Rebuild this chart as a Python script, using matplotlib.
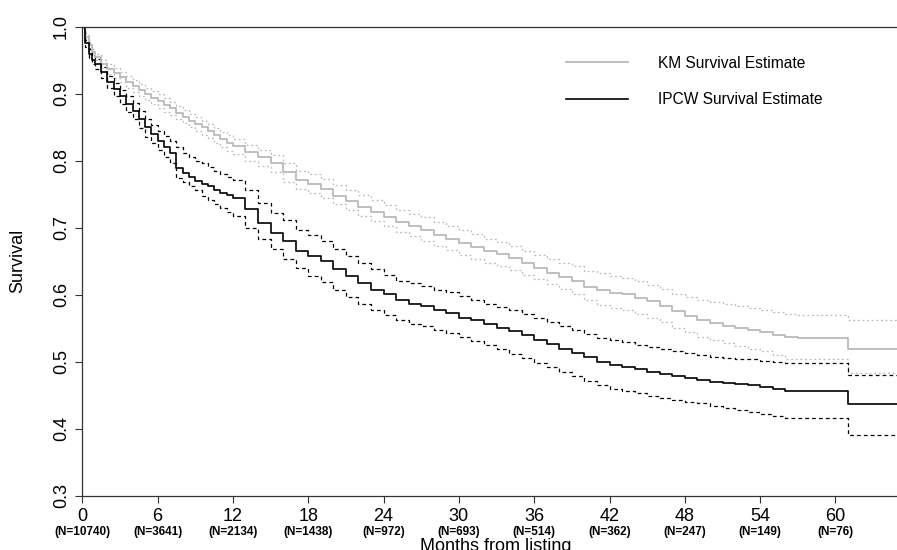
import numpy as np
import matplotlib
matplotlib.use('Agg')
import matplotlib.pyplot as plt
from matplotlib.transforms import blended_transform_factory

plt.rcParams['font.family'] = ['Liberation Sans', 'DejaVu Sans']

# months from listing (step times)
months = [0, 0.25, 0.5, 0.75, 1, 1.5, 2, 2.5, 3, 3.5, 4, 4.5, 5, 5.5, 6, 6.5, 7, 7.5,
          8, 8.5, 9, 9.5, 10, 10.5, 11, 11.5, 12,
          13, 14, 15, 16, 17, 18, 19, 20, 21, 22, 23, 24,
          25, 26, 27, 28, 29, 30, 31, 32, 33, 34, 35, 36, 37, 38, 39, 40,
          41, 42, 43, 44, 45, 46, 47, 48, 49, 50, 51, 52, 53, 54, 55, 56,
          57, 58, 59, 60, 61, 65]

km = [1.000, 0.985, 0.972, 0.962, 0.955, 0.945, 0.937, 0.931, 0.925, 0.918, 0.911, 0.905,
      0.900, 0.894, 0.889, 0.883, 0.878, 0.872, 0.866, 0.860, 0.855, 0.850, 0.845, 0.838,
      0.832, 0.827, 0.822,
      0.813, 0.805, 0.796, 0.783, 0.772, 0.766, 0.758, 0.748, 0.740, 0.731, 0.724, 0.716,
      0.708, 0.703, 0.697, 0.690, 0.684, 0.677, 0.672, 0.666, 0.661, 0.655, 0.647, 0.640,
      0.633, 0.626, 0.620, 0.612, 0.607, 0.603, 0.601, 0.596, 0.591, 0.584, 0.576, 0.569,
      0.562, 0.558, 0.554, 0.550, 0.547, 0.545, 0.540, 0.537, 0.536, 0.536, 0.536, 0.536,
      0.519, 0.519]
km_upper = [1.000, 0.988, 0.976, 0.966, 0.960, 0.951, 0.944, 0.938, 0.933, 0.926, 0.920, 0.914,
            0.909, 0.904, 0.899, 0.893, 0.888, 0.882, 0.876, 0.870, 0.865, 0.860, 0.855, 0.849,
            0.843, 0.838, 0.833,
            0.824, 0.816, 0.808, 0.796, 0.785, 0.780, 0.773, 0.764, 0.757, 0.749, 0.742, 0.734,
            0.726, 0.721, 0.716, 0.709, 0.703, 0.697, 0.691, 0.684, 0.679, 0.673, 0.666, 0.660,
            0.654, 0.648, 0.643, 0.636, 0.632, 0.628, 0.625, 0.620, 0.615, 0.609, 0.602, 0.597,
            0.592, 0.589, 0.586, 0.583, 0.580, 0.578, 0.574, 0.571, 0.570, 0.570, 0.570, 0.570,
            0.562, 0.562]
km_lower = [1.000, 0.982, 0.968, 0.958, 0.950, 0.939, 0.930, 0.924, 0.917, 0.909, 0.902, 0.896,
            0.891, 0.885, 0.879, 0.873, 0.868, 0.862, 0.856, 0.850, 0.844, 0.839, 0.834, 0.827,
            0.820, 0.815, 0.810,
            0.800, 0.792, 0.783, 0.769, 0.758, 0.752, 0.744, 0.735, 0.727, 0.718, 0.710, 0.702,
            0.694, 0.688, 0.681, 0.673, 0.667, 0.659, 0.654, 0.648, 0.643, 0.637, 0.630, 0.623,
            0.616, 0.609, 0.602, 0.593, 0.585, 0.580, 0.577, 0.572, 0.566, 0.559, 0.551, 0.544,
            0.537, 0.532, 0.528, 0.524, 0.520, 0.517, 0.510, 0.505, 0.504, 0.504, 0.504, 0.504,
            0.483, 0.483]

ipcw = [1.000, 0.975, 0.960, 0.951, 0.945, 0.932, 0.918, 0.907, 0.896, 0.885, 0.875, 0.862,
        0.850, 0.840, 0.830, 0.821, 0.812, 0.789, 0.782, 0.776, 0.770, 0.766, 0.762, 0.757,
        0.752, 0.749, 0.745,
        0.728, 0.707, 0.692, 0.681, 0.666, 0.658, 0.650, 0.638, 0.628, 0.617, 0.608, 0.601,
        0.592, 0.587, 0.583, 0.578, 0.573, 0.566, 0.562, 0.556, 0.551, 0.546, 0.540, 0.533,
        0.527, 0.519, 0.514, 0.507, 0.500, 0.496, 0.492, 0.489, 0.485, 0.482, 0.479, 0.476,
        0.473, 0.470, 0.468, 0.467, 0.465, 0.462, 0.460, 0.457, 0.457, 0.457, 0.457, 0.457,
        0.437, 0.437]
ipcw_upper = [1.000, 0.980, 0.966, 0.958, 0.952, 0.940, 0.927, 0.916, 0.906, 0.896, 0.886, 0.874,
              0.863, 0.854, 0.845, 0.837, 0.829, 0.820, 0.812, 0.806, 0.800, 0.796, 0.791, 0.785,
              0.780, 0.776, 0.772,
              0.757, 0.737, 0.722, 0.711, 0.697, 0.689, 0.680, 0.668, 0.658, 0.648, 0.638, 0.630,
              0.621, 0.617, 0.613, 0.608, 0.604, 0.598, 0.593, 0.587, 0.582, 0.577, 0.572, 0.566,
              0.560, 0.553, 0.548, 0.542, 0.536, 0.532, 0.529, 0.525, 0.522, 0.519, 0.516, 0.513,
              0.510, 0.508, 0.506, 0.505, 0.504, 0.502, 0.500, 0.498, 0.498, 0.498, 0.498, 0.498,
              0.481, 0.481]
ipcw_lower = [1.000, 0.970, 0.953, 0.944, 0.937, 0.923, 0.908, 0.896, 0.884, 0.873, 0.862, 0.849,
              0.836, 0.826, 0.816, 0.806, 0.797, 0.775, 0.768, 0.762, 0.756, 0.748, 0.741, 0.735,
              0.729, 0.723, 0.718,
              0.700, 0.684, 0.668, 0.654, 0.640, 0.628, 0.619, 0.607, 0.597, 0.586, 0.577, 0.570,
              0.562, 0.557, 0.553, 0.548, 0.543, 0.537, 0.531, 0.525, 0.519, 0.512, 0.506, 0.499,
              0.493, 0.485, 0.479, 0.472, 0.465, 0.460, 0.456, 0.453, 0.449, 0.446, 0.443, 0.440,
              0.438, 0.434, 0.431, 0.428, 0.425, 0.423, 0.420, 0.416, 0.416, 0.416, 0.416, 0.416,
              0.391, 0.391]

tick_months = [0, 6, 12, 18, 24, 30, 36, 42, 48, 54, 60]
at_risk = ['(N=10740)', '(N=3641)', '(N=2134)', '(N=1438)', '(N=972)', '(N=693)',
           '(N=514)', '(N=362)', '(N=247)', '(N=149)', '(N=76)']
y_ticks = [0.3, 0.4, 0.5, 0.6, 0.7, 0.8, 0.9, 1.0]

grey = '#bababa'

fig = plt.figure(figsize=(8.97, 5.5), dpi=100)
ax = fig.add_axes([82.3 / 897, 54 / 550, (897 - 82.3) / 897, 469.3 / 550])

ax.plot(months, km_upper, color=grey, lw=0.9, dashes=(1.5, 2.2), drawstyle='steps-post')
ax.plot(months, km_lower, color=grey, lw=0.9, dashes=(1.5, 2.2), drawstyle='steps-post')
ax.plot(months, ipcw_upper, color='black', lw=0.9, dashes=(3, 2.5), drawstyle='steps-post')
ax.plot(months, ipcw_lower, color='black', lw=0.9, dashes=(3, 2.5), drawstyle='steps-post')
ax.plot(months, km, color=grey, lw=1.3, drawstyle='steps-post', label='KM Survival Estimate')
ax.plot(months, ipcw, color='black', lw=1.2, drawstyle='steps-post', label='IPCW Survival Estimate')

ax.set_xlim(0, 64.9)
ax.set_ylim(0.3, 1.0)
ax.spines['right'].set_visible(False)
for s in ['left', 'bottom', 'top']:
    ax.spines[s].set_color('#333333')
    ax.spines[s].set_linewidth(0.9)

ax.set_xticks(tick_months)
ax.set_xticklabels([str(m) for m in tick_months], fontsize=13)
ax.set_yticks(y_ticks)
ax.set_yticklabels(['%.1f' % v for v in y_ticks], fontsize=13, rotation=90, va='center')
ax.tick_params(axis='both', direction='out', length=5, width=0.8, color='#333333', pad=4)
ax.tick_params(axis='x', pad=3.5)

# numbers at risk under each tick
trans = blended_transform_factory(ax.transData, ax.transAxes)
for m, n in zip(tick_months, at_risk):
    ax.text(m, -0.0775, n, transform=trans, ha='center', va='center',
            fontsize=8.5, fontweight='bold')

ax.set_ylabel('Survival', fontsize=13, labelpad=19)
fig.text(0.553, -0.002, 'Months from listing', ha='center', va='baseline', fontsize=13)

ax.legend(loc='upper left', bbox_to_anchor=(0.5937, 0.938), frameon=False,
          fontsize=11.2, handlelength=4.0, handletextpad=1.93, labelspacing=1.38,
          borderpad=0, borderaxespad=0)

fig.savefig('out.png', dpi=100)
